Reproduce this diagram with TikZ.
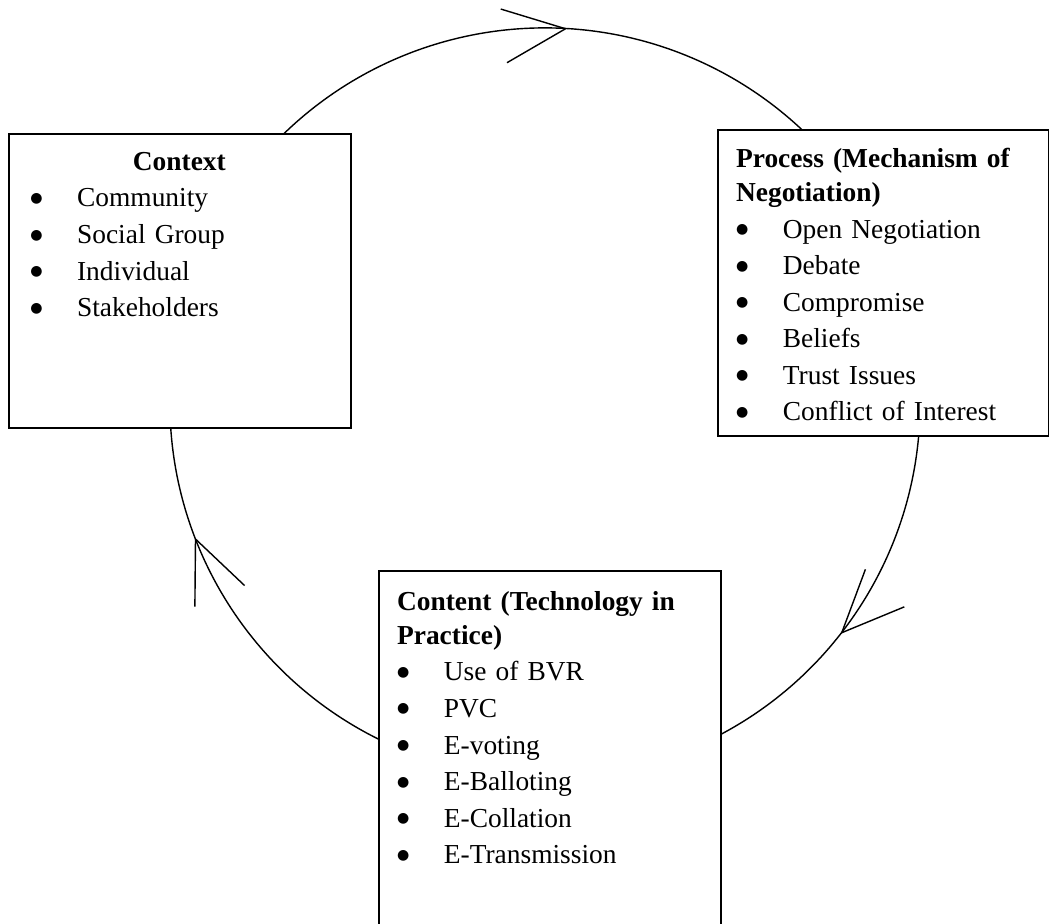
\documentclass[tikz,border=0pt]{standalone}
\usepackage{fontspec}
\setmainfont{Liberation Serif}
\newfontfamily\dotfont{DejaVu Sans}
\usetikzlibrary{positioning,arrows.meta,decorations.markings}

\newcommand{\itm}[1]{\makebox[1.17cm][l]{\raisebox{3.2pt}{\fontsize{10}{10}\dotfont ●}}#1}

\begin{document}
\begin{tikzpicture}[
    x=0.025cm, y=0.025cm,
    box/.style={draw, line width=1.1pt, fill=white, anchor=north west, inner sep=0pt},
    list/.style={align=left, text width=7.45cm, inner sep=0pt, font=\fontsize{19.5}{26}\selectfont},
    tip turn/.store in=\tipturn, tip turn=0,
    flow/.style={line width=1pt, postaction={decorate, decoration={markings,
        mark=at position #1 with {\pgftransformrotate{\tipturn}\arrow{Straight Barb[length=1.55cm, width=1.35cm]}}}}}
]
\useasboundingbox (0,0) rectangle (1049,-924);
\coordinate (ring) at (545,-403);

% cycle: context -> process -> content -> context
\draw[tip turn=10, flow=0.534] ([shift={(140:9.375cm)}]ring) arc[start angle=140, end angle=40, radius=9.375cm];
\draw[tip turn=-6, flow=0.543] ([shift={(0:9.375cm)}]ring) arc[start angle=0, end angle=-70, radius=9.375cm];
\draw[tip turn=2, flow=0.70] ([shift={(-110:9.375cm)}]ring) arc[start angle=-110, end angle=-180, radius=9.375cm];

\node[box, minimum width=8.55cm, minimum height=7.35cm] (context) at (8,-133) {};
\node[box, minimum width=8.275cm, minimum height=7.65cm] (process) at (717,-129) {};
\node[box, minimum width=8.55cm, minimum height=9cm] (content) at (378,-570) {};

\node[list, below right=0.475cm and 0.55cm of context.north west] (context-list) {%
    \makebox[7.45cm][c]{\textbf{Context}}\\
    \itm{Community}\\
    \itm{Social Group}\\
    \itm{Individual}\\
    \itm{Stakeholders}};
\node[list, below right=0.475cm and 0.47cm of process.north west] (process-list) {%
    \textbf{Process (Mechanism of}\\[-1.8pt]
    \textbf{Negotiation)}\\
    \itm{Open Negotiation}\\
    \itm{Debate}\\
    \itm{Compromise}\\
    \itm{Beliefs}\\
    \itm{Trust Issues}\\
    \itm{Conflict of Interest}};
\node[list, below right=0.525cm and 0.47cm of content.north west] (content-list) {%
    \textbf{Content (Technology in}\\[-1.8pt]
    \textbf{Practice)}\\
    \itm{Use of BVR}\\
    \itm{PVC}\\
    \itm{E-voting}\\
    \itm{E-Balloting}\\
    \itm{E-Collation}\\
    \itm{E-Transmission}};
\end{tikzpicture}
\end{document}
